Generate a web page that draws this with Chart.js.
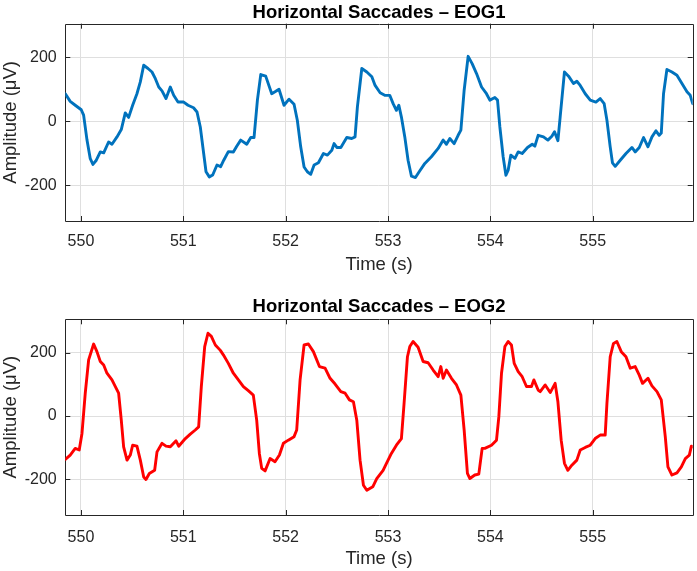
<!DOCTYPE html>
<html>
<head>
<meta charset="utf-8">
<script src="https://cdn.jsdelivr.net/npm/chart.js@4.4.1/dist/chart.umd.min.js"></script>
<style>
  html, body { margin: 0; padding: 0; background: #ffffff; }
  #wrap { position: relative; width: 697px; height: 571px; overflow: hidden; }
  .panel { position: absolute; left: 0; width: 697px; }
</style>
</head>
<body>
<div id="wrap">
  <div class="panel" style="top:0px;height:285px;"><canvas id="c1" width="697" height="285"></canvas></div>
  <div class="panel" style="top:285px;height:286px;"><canvas id="c2" width="697" height="286"></canvas></div>
</div>
<script>
// ---------------- DATA ----------------
const titles = ["Horizontal Saccades \u2013 EOG1", "Horizontal Saccades \u2013 EOG2"];
const xAxisLabel = "Time (s)";
const yAxisLabel = "Amplitude (\u03bcV)";
const xTickValues = [550, 551, 552, 553, 554, 555];
const yTickValues = [-200, 0, 200];
const xRange = [549.847, 555.977];
const yRange = [-312, 305];

const eog1Time = [549.847, 549.895, 549.944, 550.003, 550.026, 550.059, 550.091, 550.117, 550.15, 550.189, 550.222, 550.27, 550.303, 550.352, 550.394, 550.433, 550.466, 550.505, 550.547, 550.58, 550.613, 550.655, 550.694, 550.727, 550.76, 550.792, 550.831, 550.873, 550.906, 550.948, 551.004, 551.046, 551.1, 551.134, 551.166, 551.199, 551.222, 551.254, 551.287, 551.329, 551.365, 551.395, 551.44, 551.489, 551.522, 551.561, 551.62, 551.659, 551.691, 551.724, 551.757, 551.805, 551.864, 551.896, 551.935, 551.984, 552.033, 552.082, 552.114, 552.147, 552.18, 552.212, 552.245, 552.278, 552.32, 552.369, 552.408, 552.451, 552.473, 552.5, 552.539, 552.597, 552.646, 552.678, 552.701, 552.744, 552.793, 552.842, 552.874, 552.923, 552.968, 553.017, 553.05, 553.082, 553.106, 553.131, 553.164, 553.196, 553.229, 553.268, 553.311, 553.36, 553.424, 553.49, 553.539, 553.571, 553.604, 553.646, 553.685, 553.712, 553.744, 553.783, 553.822, 553.865, 553.914, 553.962, 553.995, 554.044, 554.07, 554.093, 554.125, 554.152, 554.174, 554.2, 554.24, 554.272, 554.311, 554.363, 554.409, 554.435, 554.467, 554.519, 554.562, 554.601, 554.627, 554.66, 554.682, 554.724, 554.764, 554.812, 554.845, 554.878, 554.927, 554.976, 555.031, 555.073, 555.112, 555.139, 555.171, 555.193, 555.22, 555.269, 555.325, 555.383, 555.415, 555.455, 555.497, 555.54, 555.579, 555.618, 555.65, 555.67, 555.692, 555.725, 555.774, 555.823, 555.872, 555.921, 555.953, 555.977];
const eog1Amp = [86, 62, 50, 36, 19, -59, -117, -135, -122, -96, -99, -65, -72, -49, -26, 26, 12, 50, 86, 123, 175, 165, 154, 133, 107, 95, 71, 107, 81, 60, 60, 50, 42, 29, -18, -101, -158, -174, -168, -137, -142, -122, -95, -96, -78, -59, -72, -51, -51, 66, 146, 141, 86, 92, 100, 50, 69, 53, 3, -80, -143, -158, -166, -137, -130, -101, -106, -91, -70, -82, -82, -51, -54, -49, 45, 165, 154, 139, 112, 89, 81, 81, 55, 34, 50, 13, -49, -122, -172, -176, -155, -132, -111, -85, -59, -72, -54, -70, -44, -28, 97, 203, 180, 149, 107, 86, 66, 74, 66, -18, -111, -169, -153, -106, -116, -96, -101, -82, -72, -78, -44, -49, -59, -47, -33, -61, 13, 154, 141, 118, 125, 112, 86, 66, 60, 71, 55, 3, -80, -130, -141, -122, -101, -82, -96, -82, -51, -80, -49, -30, -44, -37, 86, 162, 154, 144, 118, 92, 81, 55];

const eog2Time = [549.847, 549.895, 549.944, 549.983, 550.01, 550.042, 550.075, 550.124, 550.156, 550.189, 550.222, 550.254, 550.303, 550.336, 550.368, 550.394, 550.417, 550.45, 550.482, 550.505, 550.547, 550.58, 550.613, 550.635, 550.668, 550.72, 550.743, 550.792, 550.831, 550.873, 550.929, 550.955, 551.02, 551.068, 551.117, 551.15, 551.176, 551.209, 551.241, 551.274, 551.313, 551.362, 551.391, 551.44, 551.489, 551.538, 551.587, 551.635, 551.684, 551.717, 551.743, 551.766, 551.799, 551.848, 551.896, 551.939, 551.978, 552.026, 552.082, 552.108, 552.141, 552.18, 552.222, 552.271, 552.33, 552.385, 552.434, 552.483, 552.539, 552.581, 552.623, 552.662, 552.695, 552.727, 552.76, 552.793, 552.851, 552.89, 552.952, 552.985, 553.033, 553.082, 553.131, 553.157, 553.19, 553.213, 553.245, 553.294, 553.343, 553.392, 553.441, 553.49, 553.516, 553.539, 553.571, 553.62, 553.669, 553.712, 553.744, 553.776, 553.8, 553.848, 553.887, 553.92, 553.946, 554.011, 554.06, 554.083, 554.109, 554.142, 554.174, 554.206, 554.233, 554.272, 554.311, 554.353, 554.402, 554.425, 554.467, 554.487, 554.536, 554.585, 554.633, 554.66, 554.692, 554.724, 554.757, 554.796, 554.845, 554.878, 554.927, 554.976, 555.024, 555.073, 555.122, 555.139, 555.171, 555.203, 555.236, 555.279, 555.325, 555.367, 555.415, 555.455, 555.487, 555.54, 555.579, 555.628, 555.67, 555.709, 555.735, 555.774, 555.823, 555.866, 555.905, 555.944, 555.964, 555.977];
const eog2Amp = [-137, -123, -102, -107, -55, 72, 177, 227, 203, 172, 161, 135, 114, 93, 72, -13, -97, -139, -123, -92, -95, -139, -192, -200, -181, -171, -113, -86, -95, -97, -78, -95, -71, -57, -44, -34, 93, 219, 261, 251, 224, 207, 193, 166, 135, 114, 93, 80, 66, -13, -118, -165, -173, -134, -144, -123, -86, -76, -65, -44, 114, 224, 227, 203, 156, 151, 119, 101, 77, 72, 51, 45, -13, -139, -218, -234, -223, -197, -171, -149, -118, -92, -71, 40, 187, 219, 235, 217, 172, 168, 145, 124, 156, 119, 145, 119, 98, 66, -44, -181, -197, -186, -183, -102, -102, -92, -76, -2, 135, 219, 235, 224, 166, 140, 124, 93, 93, 114, 82, 77, 98, 74, 103, 45, -76, -149, -171, -155, -139, -107, -99, -92, -71, -60, -60, 40, 187, 229, 235, 203, 187, 151, 156, 129, 103, 119, 95, 77, 51, -65, -160, -186, -179, -160, -134, -123, -95, -97];

// ---------------- STYLE / LAYOUT ----------------
const AXIS_COLOR = '#262626';
const GRID_COLOR = '#dfdfdf';
const FONT_FAMILY = '"Liberation Sans", Arial, Helvetica, sans-serif';

const boxPlugin = {
  id: 'matlabBox',
  beforeDatasetsDraw(chart) {
    const {ctx, chartArea: a, scales} = chart;
    const x = scales.x, y = scales.y;
    const tl = 5;
    ctx.save();
    ctx.strokeStyle = AXIS_COLOR;
    ctx.lineWidth = 1;
    ctx.beginPath();
    ctx.rect(Math.round(a.left) + 0.5, Math.round(a.top) + 0.5,
             Math.round(a.right) - Math.round(a.left), Math.round(a.bottom) - Math.round(a.top));
    ctx.stroke();
    ctx.beginPath();
    x.ticks.forEach(t => {
      const px = Math.round(x.getPixelForValue(t.value)) + 0.5;
      ctx.moveTo(px, a.bottom); ctx.lineTo(px, a.bottom - tl);
      ctx.moveTo(px, a.top); ctx.lineTo(px, a.top + tl);
    });
    y.ticks.forEach(t => {
      const py = Math.round(y.getPixelForValue(t.value)) + 0.5;
      ctx.moveTo(a.left, py); ctx.lineTo(a.left + tl, py);
      ctx.moveTo(a.right, py); ctx.lineTo(a.right - tl, py);
    });
    ctx.stroke();
    ctx.restore();
  }
};

function makeChart(canvasId, times, amps, color, titleText, lay) {
  const points = times.map((t, i) => ({x: t, y: amps[i]}));
  return new Chart(document.getElementById(canvasId), {
    type: 'line',
    data: {
      datasets: [{
        data: points,
        borderColor: color,
        borderWidth: 2.9,
        pointRadius: 0,
        tension: 0,
        fill: false,
        borderJoinStyle: 'round',
        borderCapStyle: 'round'
      }]
    },
    options: {
      responsive: false,
      animation: false,
      devicePixelRatio: 1,
      layout: { padding: { left: 0, right: 4.3, top: 0, bottom: 0 } },
      plugins: {
        legend: { display: false },
        tooltip: { enabled: false },
        title: {
          display: true,
          text: titleText,
          fullSize: false,
          color: '#000000',
          font: { family: FONT_FAMILY, size: 18.5, weight: 'bold', lineHeight: 1.2 },
          padding: { top: lay.titleTop, bottom: lay.titleBottom }
        }
      },
      scales: {
        x: {
          type: 'linear',
          min: xRange[0],
          max: xRange[1],
          afterBuildTicks: s => { s.ticks = xTickValues.map(v => ({value: v})); },
          afterFit: s => { s.height = lay.xHeight; },
          grid: { color: GRID_COLOR, lineWidth: 1, drawTicks: false },
          border: { display: false },
          ticks: {
            color: AXIS_COLOR,
            padding: lay.xTickPad,
            maxRotation: 0,
            autoSkip: false,
            font: { family: FONT_FAMILY, size: 16 },
            callback: v => String(v)
          },
          title: {
            display: true,
            text: xAxisLabel,
            color: AXIS_COLOR,
            font: { family: FONT_FAMILY, size: 18.5, lineHeight: 1.2 },
            padding: { top: 0, bottom: lay.xTitleBottom }
          }
        },
        y: {
          type: 'linear',
          min: yRange[0],
          max: yRange[1],
          afterBuildTicks: s => { s.ticks = yTickValues.map(v => ({value: v})); },
          afterFit: s => { s.width = 65.3; },
          grid: { color: GRID_COLOR, lineWidth: 1, drawTicks: false },
          border: { display: false },
          ticks: {
            color: AXIS_COLOR,
            padding: 8.6,
            autoSkip: false,
            font: { family: FONT_FAMILY, size: 16 },
            callback: v => String(v)
          },
          title: {
            display: true,
            text: yAxisLabel,
            color: AXIS_COLOR,
            font: { family: FONT_FAMILY, size: 18.5, lineHeight: 1.2 },
            padding: { top: 0, bottom: 0 }
          }
        }
      }
    },
    plugins: [boxPlugin]
  });
}

makeChart('c1', eog1Time, eog1Amp, '#0072BD', titles[0],
  { titleTop: 1.5, titleBottom: 0, xHeight: 64, xTickPad: 10.5, xTitleBottom: 9 });
makeChart('c2', eog2Time, eog2Amp, '#FF0000', titles[1],
  { titleTop: 11, titleBottom: 1.1, xHeight: 56, xTickPad: 12.5, xTitleBottom: 1 });
</script>
</body>
</html>
